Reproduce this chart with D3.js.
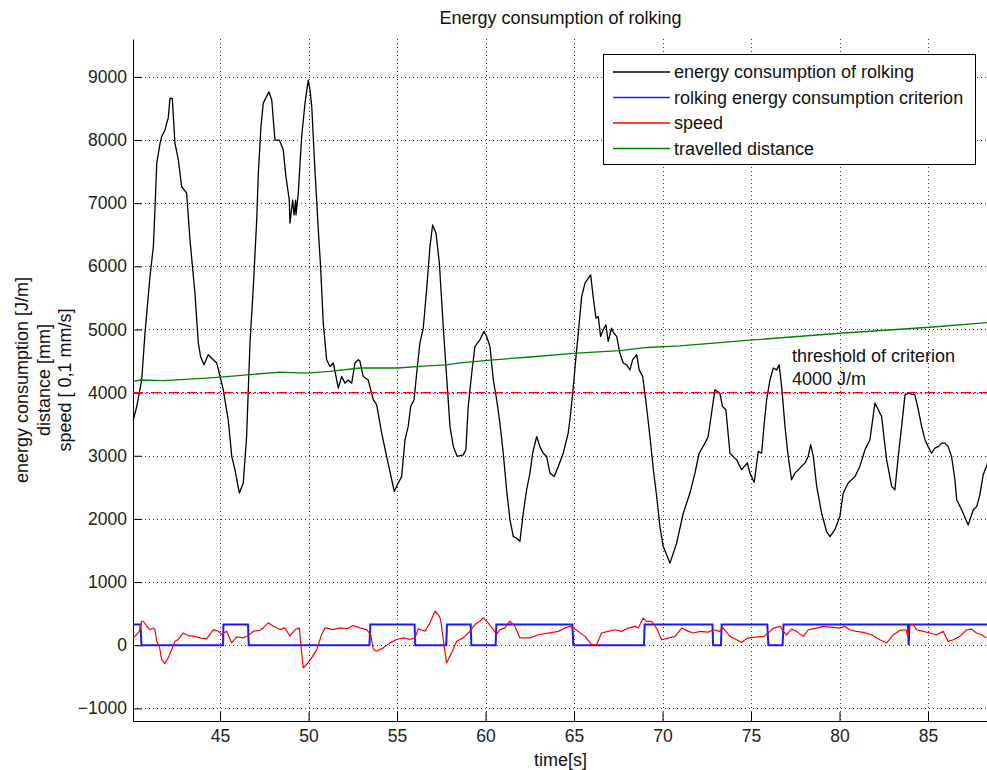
<!DOCTYPE html>
<html>
<head>
<meta charset="utf-8">
<script src="https://cdn.jsdelivr.net/npm/d3@7"></script>
<style>
  html, body { margin: 0; padding: 0; background: #fff; }
  svg { display: block; font-family: "Liberation Sans", Arial, sans-serif; }
</style>
</head>
<body>
<svg id="chart" width="987" height="770"></svg>
<script>
// ---- data: [time (s), value] ----
const energy = [
  [40.10,3570],[40.29,3780],[40.57,4200],[40.76,4950],[41.04,5840],[41.23,6310],[41.32,6890],
  [41.42,7630],[41.61,7950],[41.70,8055],[41.89,8160],[41.98,8265],[42.07,8345],[42.17,8660],
  [42.30,8660],[42.45,7950],[42.64,7690],[42.83,7260],[43.11,7160],[43.30,6420],[43.58,5575],
  [43.77,4785],[43.90,4570],[44.09,4440],[44.33,4600],[44.62,4520],[44.81,4470],[45.00,4255],
  [45.18,4045],[45.46,3570],[45.66,2990],[45.84,2780],[46.09,2410],[46.31,2570],[46.50,3305],
  [46.69,4785],[46.88,5680],[47.07,6735],[47.16,7475],[47.31,8210],[47.44,8585],[47.76,8765],
  [47.92,8635],[48.10,8000],[48.35,8000],[48.57,7845],[48.72,7420],[48.91,7050],[48.95,6685],
  [49.10,7050],[49.18,6815],[49.27,7050],[49.29,6815],[49.42,7160],[49.61,8055],[49.80,8585],
  [49.98,8950],[50.08,8795],[50.18,8530],[50.36,7525],[50.55,6580],[50.68,5995],[50.83,5100],
  [51.02,4520],[51.21,4415],[51.40,4470],[51.68,4070],[51.87,4255],[52.06,4150],[52.24,4200],
  [52.44,4150],[52.62,4470],[52.81,4520],[52.90,4500],[53.09,4255],[53.37,4200],[53.66,3885],
  [53.85,3805],[54.13,3360],[54.41,2990],[54.70,2620],[54.84,2435],[55.07,2570],[55.26,2670],
  [55.45,3255],[55.63,3465],[55.77,3780],[55.96,3885],[56.11,4310],[56.29,4785],[56.48,5020],
  [56.67,5630],[56.86,6315],[57.01,6655],[57.20,6525],[57.39,6050],[57.61,5045],[57.80,4255],
  [57.99,3465],[58.18,3145],[58.40,2990],[58.74,3015],[58.89,3095],[59.02,3780],[59.22,4310],
  [59.40,4730],[59.68,4835],[59.91,4970],[60.06,4890],[60.25,4730],[60.44,4200],[60.63,3885],
  [60.81,3520],[61.00,3040],[61.19,2460],[61.38,1985],[61.57,1720],[61.76,1695],[61.94,1645],
  [62.13,2090],[62.32,2460],[62.51,2725],[62.66,3040],[62.89,3305],[63.07,3145],[63.26,3040],
  [63.45,2990],[63.64,2725],[63.88,2670],[64.11,2830],[64.39,3040],[64.67,3360],[64.81,3675],
  [64.96,4095],[65.11,4570],[65.24,4940],[65.43,5520],[65.62,5735],[65.80,5810],[65.94,5865],
  [66.08,5520],[66.24,5180],[66.37,5205],[66.50,4890],[66.65,4995],[66.80,5075],[66.93,4810],
  [67.12,5020],[67.25,4940],[67.41,4890],[67.59,4625],[67.78,4470],[67.97,4440],[68.16,4360],
  [68.31,4520],[68.54,4600],[68.68,4360],[68.88,4255],[69.06,3860],[69.29,3305],[69.48,2780],
  [69.67,2355],[69.85,1880],[70.04,1565],[70.42,1300],[70.80,1620],[71.17,2090],[71.55,2410],
  [71.83,2725],[72.07,3040],[72.40,3200],[72.58,3305],[72.77,3675],[72.96,4045],[73.24,3990],
  [73.39,3780],[73.58,3730],[73.81,3040],[74.19,2935],[74.47,2780],[74.79,2885],[74.94,2725],
  [75.18,2580],[75.41,3070],[75.60,3040],[75.73,3465],[75.88,3885],[76.07,4200],[76.26,4390],
  [76.45,4360],[76.59,4440],[76.73,4095],[76.92,3465],[77.10,2990],[77.29,2620],[77.48,2725],
  [77.76,2805],[78.05,2885],[78.23,2990],[78.37,3175],[78.52,2990],[78.71,2515],[78.99,2090],
  [79.27,1800],[79.46,1720],[79.74,1830],[80.02,2040],[80.21,2410],[80.49,2570],[80.87,2670],
  [81.15,2830],[81.44,3095],[81.72,3255],[82.00,3835],[82.19,3730],[82.38,3620],[82.66,2935],
  [82.95,2515],[83.13,2460],[83.32,2990],[83.51,3465],[83.70,3965],[83.89,3990],[84.26,3965],
  [84.45,3730],[84.64,3465],[84.83,3255],[85.01,3145],[85.20,3040],[85.39,3120],[85.58,3145],
  [85.77,3200],[85.95,3200],[86.14,3145],[86.33,2990],[86.52,2620],[86.62,2305],[86.90,2145],
  [87.27,1905],[87.56,2145],[87.75,2195],[87.93,2380],[88.12,2700],[88.37,2885]
];

const criterion = [
  [40.08,330],[40.50,330],[40.56,0],[45.17,0],[45.19,330],[46.58,330],[46.62,0],[53.44,0],
  [53.49,330],[55.99,330],[56.03,0],[57.78,0],[57.82,330],[59.16,330],[59.20,0],[60.57,0],
  [60.61,330],[64.90,330],[64.96,0],[68.95,0],[68.99,330],[72.82,330],[72.86,0],[73.30,0],
  [73.34,330],[75.92,330],[75.98,0],[76.78,0],[76.84,330],[83.86,330],[83.91,0],[83.95,330],
  [88.40,330]
];

const speed = [
  [40.10,116],[40.29,169],[40.44,222],[40.57,380],[40.66,380],[40.85,300],[41.04,248],[41.23,274],
  [41.32,248],[41.42,63],[41.57,-16],[41.70,-227],[41.89,-290],[42.07,-200],[42.26,-69],[42.45,63],
  [42.64,90],[42.92,195],[43.20,153],[43.49,143],[43.87,116],[44.24,100],[44.62,248],[44.90,222],
  [45.09,169],[45.37,222],[45.66,37],[45.94,132],[46.31,116],[46.60,153],[46.88,222],[47.26,237],
  [47.44,274],[47.72,354],[48.01,300],[48.39,248],[48.67,274],[48.95,143],[49.24,248],[49.48,274],
  [49.57,-16],[49.70,-359],[49.89,-306],[50.17,-200],[50.46,-69],[50.74,169],[50.93,274],[51.40,248],
  [51.78,274],[52.15,259],[52.53,311],[52.90,274],[53.28,248],[53.51,169],[53.66,-69],[53.85,-95],
  [54.22,-42],[54.60,37],[54.98,90],[55.36,116],[55.73,90],[56.01,116],[56.20,259],[56.58,222],
  [56.86,354],[57.14,538],[57.33,485],[57.46,406],[57.61,90],[57.80,-280],[58.08,-121],[58.37,63],
  [58.74,116],[59.12,222],[59.40,327],[59.68,380],[59.87,433],[60.15,354],[60.44,248],[60.62,169],
  [60.81,248],[61.09,274],[61.38,380],[61.66,300],[61.94,116],[62.51,116],[62.98,166],[63.54,193],
  [64.11,219],[64.49,272],[64.77,298],[64.96,272],[65.24,219],[65.62,140],[65.99,8],[66.27,8],
  [66.56,193],[66.93,219],[67.31,245],[67.69,219],[68.06,272],[68.44,298],[68.63,272],[68.91,430],
  [69.10,377],[69.38,377],[69.66,272],[69.95,87],[70.32,113],[70.70,140],[71.08,272],[71.46,219],
  [71.76,193],[72.12,219],[72.59,208],[72.87,245],[73.24,219],[73.43,272],[73.81,140],[74.19,87],
  [74.47,45],[74.80,113],[75.28,129],[75.72,140],[76.07,219],[76.26,272],[76.64,298],[76.83,219],
  [77.01,166],[77.29,256],[77.58,219],[77.96,140],[78.23,245],[78.71,272],[79.08,298],[79.55,288],
  [80.02,272],[80.30,298],[80.58,245],[80.96,219],[81.34,203],[81.81,166],[82.28,87],[82.66,34],
  [83.04,166],[83.41,235],[83.75,245],[83.87,140],[83.98,325],[84.17,325],[84.36,245],[84.74,219],
  [85.11,193],[85.48,166],[85.86,219],[86.14,61],[86.43,87],[86.80,140],[87.18,245],[87.46,256],
  [87.74,193],[88.02,166],[88.30,113]
];

const distance = [
  [40.08,4175],[40.48,4200],[41.79,4190],[44.24,4230],[45.37,4255],[48.39,4325],[49.89,4310],
  [51.21,4335],[52.90,4390],[55.07,4390],[56.67,4425],[57.80,4440],[58.55,4470],[60.44,4520],
  [62.32,4560],[65.15,4625],[67.59,4665],[69.10,4715],[70.98,4740],[75.12,4835],[80.02,4940],
  [85.11,5035],[88.37,5110]
];

const threshold = 4000;
const xTicks = [45, 50, 55, 60, 65, 70, 75, 80, 85];
const yTicks = [-1000, 0, 1000, 2000, 3000, 4000, 5000, 6000, 7000, 8000, 9000];
const legendLabels = [
  "energy consumption of rolking",
  "rolking energy consumption criterion",
  "speed",
  "travelled distance"
];
const seriesColors = ["#000000", "#1a1aff", "#ff0000", "#008000"];

(function draw() {
  const svg = d3.select("#chart");
  const mLeft = 133, mRight = 988, mTop = 39, mBottom = 721;

  const x = d3.scaleLinear().domain([40.08, 88.39]).range([mLeft, mRight]);
  const y = d3.scaleLinear().domain([-1200, 9600]).range([mBottom, mTop]);

  svg.append("defs").append("clipPath").attr("id", "plotClip")
    .append("rect").attr("x", mLeft).attr("y", mTop)
    .attr("width", mRight - mLeft).attr("height", mBottom - mTop);

  // dotted grid
  const grid = svg.append("g").attr("stroke", "#333").attr("stroke-width", 1)
    .attr("stroke-dasharray", "1,3").attr("fill", "none");
  grid.selectAll("line.gx").data(xTicks).join("line").attr("class", "gx")
    .attr("x1", d => Math.round(x(d)) + 0.5).attr("x2", d => Math.round(x(d)) + 0.5)
    .attr("y1", mTop).attr("y2", mBottom);
  grid.selectAll("line.gy").data(yTicks).join("line").attr("class", "gy")
    .attr("y1", d => Math.round(y(d)) + 0.5).attr("y2", d => Math.round(y(d)) + 0.5)
    .attr("x1", mLeft).attr("x2", mRight);

  // axes with inward ticks
  const xAxis = d3.axisBottom(x).tickValues(xTicks).tickFormat(d3.format("d"))
    .tickSizeInner(-9).tickSizeOuter(0).tickPadding(9);
  const yAxis = d3.axisLeft(y).tickValues(yTicks).tickFormat(d3.format("d"))
    .tickSizeInner(-9).tickSizeOuter(0).tickPadding(6);

  const gx = svg.append("g").attr("transform", `translate(0,${mBottom})`).call(xAxis);
  const gy = svg.append("g").attr("transform", `translate(${mLeft},0)`).call(yAxis);
  [gx, gy].forEach(g => {
    g.selectAll("text").attr("font-size", 17.5).attr("fill", "#222")
      .attr("font-family", "Liberation Sans, Arial, sans-serif");
    g.selectAll("line, path").attr("stroke", "#000");
  });

  // series
  const line = d3.line().x(d => x(d[0])).y(d => y(d[1]));
  const plot = svg.append("g").attr("clip-path", "url(#plotClip)").attr("fill", "none");

  plot.append("path").datum(energy).attr("d", line)
    .attr("stroke", seriesColors[0]).attr("stroke-width", 1.3).attr("stroke-linejoin", "round");
  plot.append("path").datum(criterion).attr("d", line)
    .attr("stroke", seriesColors[1]).attr("stroke-width", 2);
  plot.append("path").datum(speed).attr("d", line)
    .attr("stroke", seriesColors[2]).attr("stroke-width", 1.2).attr("stroke-linejoin", "round");
  plot.append("path").datum(distance).attr("d", line)
    .attr("stroke", seriesColors[3]).attr("stroke-width", 1.3);

  // threshold line (dash-dot)
  plot.append("line")
    .attr("x1", mLeft).attr("x2", mRight)
    .attr("y1", y(threshold)).attr("y2", y(threshold))
    .attr("stroke", "#ff0000").attr("stroke-width", 1.2)
    .attr("stroke-dasharray", "10,3,2,3");

  // threshold annotation
  const ann = svg.append("text").attr("font-size", 18).attr("fill", "#111");
  ann.append("tspan").attr("x", x(77.31)).attr("y", 362).text("threshold of criterion");
  ann.append("tspan").attr("x", x(77.31)).attr("y", 385).text("4000 J/m");

  // title and axis labels
  svg.append("text").attr("x", (mLeft + mRight) / 2).attr("y", 24)
    .attr("text-anchor", "middle").attr("font-size", 18).attr("fill", "#111")
    .text("Energy consumption of rolking");

  svg.append("text").attr("x", (mLeft + mRight) / 2).attr("y", 766)
    .attr("text-anchor", "middle").attr("font-size", 18).attr("fill", "#111")
    .text("time[s]");

  const yLabelLines = ["energy consumption [J/m]", "distance [mm]", "speed [ 0,1 mm/s]"];
  const yLabelBaselines = [28, 49.5, 71];
  yLabelLines.forEach((t, i) => {
    svg.append("text")
      .attr("transform", `translate(${yLabelBaselines[i]},${(mTop + mBottom) / 2}) rotate(-90)`)
      .attr("text-anchor", "middle").attr("font-size", 18).attr("fill", "#111")
      .text(t);
  });

  // legend
  const legend = svg.append("g");
  legend.append("rect").attr("x", 603.5).attr("y", 54.5).attr("width", 372).attr("height", 110)
    .attr("fill", "#fff").attr("stroke", "#000").attr("stroke-width", 1);
  const rowY = [72, 97.5, 123, 148.5];
  legendLabels.forEach((lab, i) => {
    legend.append("line").attr("x1", 613).attr("x2", 670)
      .attr("y1", rowY[i]).attr("y2", rowY[i])
      .attr("stroke", seriesColors[i]).attr("stroke-width", 1.6);
    legend.append("text").attr("x", 674).attr("y", rowY[i]).attr("dy", "0.35em")
      .attr("font-size", 18).attr("fill", "#111").text(lab);
  });
})();
</script>
</body>
</html>
